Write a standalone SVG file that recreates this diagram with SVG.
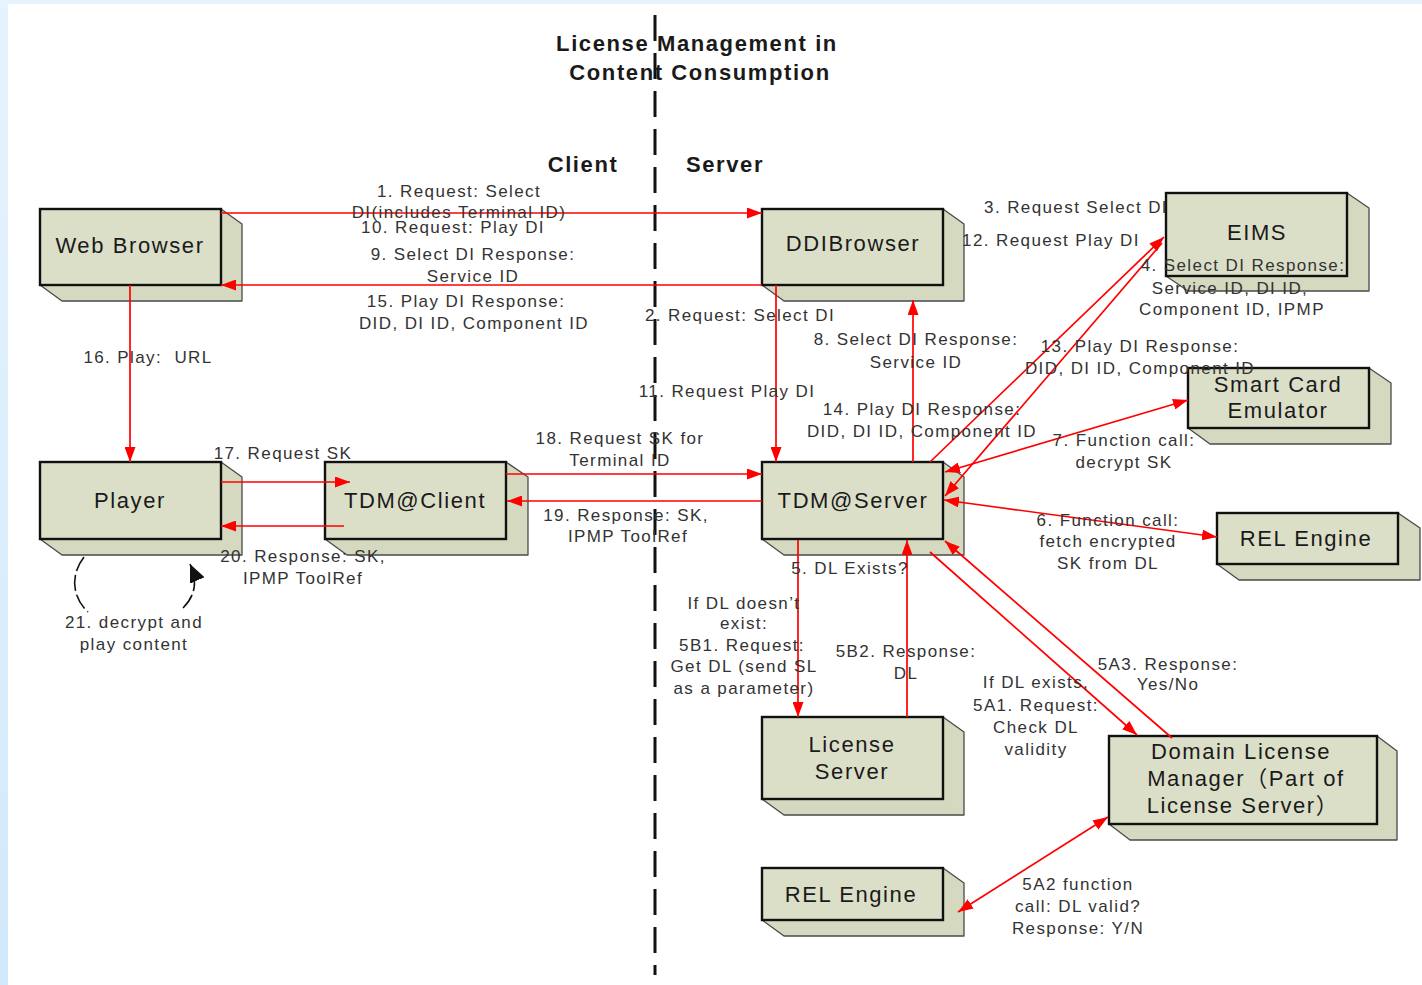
<svg xmlns="http://www.w3.org/2000/svg" width="1422" height="985" viewBox="0 0 1422 985">
<defs>
<linearGradient id="bg" x1="0" y1="0" x2="0" y2="1"><stop offset="0" stop-color="#e6f3fd"/><stop offset="1" stop-color="#d2e9fb"/></linearGradient>
<marker id="ah" markerWidth="15" markerHeight="11" refX="15" refY="5.5" orient="auto-start-reverse" markerUnits="userSpaceOnUse"><path d="M0,0 L15,5.5 L0,11 z" fill="#ff0000"/></marker>
<marker id="ahk" markerWidth="18" markerHeight="16" refX="18" refY="8" orient="auto" markerUnits="userSpaceOnUse"><path d="M0,0 L18,8 L0,16 z" fill="#111"/></marker>
<style>
.face{fill:#d5d9bf;stroke:#4a4a4a;stroke-width:1.3;stroke-linejoin:round}
.front{fill:#dcdfc8;stroke:#111;stroke-width:2.4}
.bl{font-family:"Liberation Sans",Arial,"Noto Sans CJK SC",sans-serif;font-size:22px;letter-spacing:1.6px;fill:#1a1a1a;text-anchor:middle}
.lb{font-family:"Liberation Sans",Arial,sans-serif;font-size:17px;letter-spacing:1.4px;fill:#333;text-anchor:middle}
.hd{font-family:"Liberation Sans",Arial,sans-serif;font-size:22px;font-weight:bold;letter-spacing:1.6px;fill:#1a1a1a;text-anchor:middle}
.ln{stroke:#ff0000;stroke-width:1.7;fill:none}
.ar{marker-end:url(#ah)}
.bi{marker-start:url(#ah);marker-end:url(#ah)}
</style>
</defs>
<rect x="0" y="0" width="1422" height="985" fill="url(#bg)"/>
<rect x="8" y="4" width="1414" height="981" fill="#ffffff"/>

<g id="divider">
<line x1="655" y1="15" x2="655" y2="975" stroke="#111" stroke-width="3" stroke-dasharray="26 12"/>
</g>
<g id="titles">
<text class="hd" x="697" y="51">License Management in</text>
<text class="hd" x="700" y="80">Content Consumption</text>
<text class="hd" x="583" y="172">Client</text>
<text class="hd" x="725" y="172">Server</text>
</g>

<g id="node-webbrowser">
<path class="face" d="M221,209 L242,224 L242,301 L62,301 L40,285 L221,285 Z"/>
<rect class="front" x="40" y="209" width="181" height="76"/>
<text class="bl" x="130" y="253">Web Browser</text>
</g>
<g id="node-ddibrowser">
<path class="face" d="M943,209 L964,224 L964,301 L784,301 L762,285 L943,285 Z"/>
<rect class="front" x="762" y="209" width="181" height="76"/>
<text class="bl" x="853" y="251">DDIBrowser</text>
</g>
<g id="node-eims">
<path class="face" d="M1347,193 L1369,208 L1369,291 L1188,291 L1166,276 L1347,276 Z"/>
<rect class="front" x="1166" y="193" width="181" height="83"/>
<text class="bl" x="1257" y="240">EIMS</text>
</g>
<g id="node-smartcard">
<path class="face" d="M1369,368 L1391,383 L1391,444 L1210,444 L1188,428 L1369,428 Z"/>
<rect class="front" x="1188" y="368" width="181" height="60"/>
<text class="bl" x="1278" y="392">Smart Card</text>
<text class="bl" x="1278" y="418">Emulator</text>
</g>
<g id="node-relengine1">
<path class="face" d="M1398,513 L1420,528 L1420,580 L1239,580 L1217,564 L1398,564 Z"/>
<rect class="front" x="1217" y="513" width="181" height="51"/>
<text class="bl" x="1306" y="546">REL Engine</text>
</g>
<g id="node-player">
<path class="face" d="M221,462 L242,477 L242,555 L62,555 L40,539 L221,539 Z"/>
<rect class="front" x="40" y="462" width="181" height="77"/>
<text class="bl" x="130" y="508">Player</text>
</g>
<g id="node-tdmclient">
<path class="face" d="M506,462 L528,477 L528,555 L347,555 L325,539 L506,539 Z"/>
<rect class="front" x="325" y="462" width="181" height="77"/>
<text class="bl" x="415" y="508">TDM@Client</text>
</g>
<g id="node-tdmserver">
<path class="face" d="M943,462 L964,477 L964,555 L784,555 L762,539 L943,539 Z"/>
<rect class="front" x="762" y="462" width="181" height="77"/>
<text class="bl" x="853" y="508">TDM@Server</text>
</g>
<g id="node-licenseserver">
<path class="face" d="M943,717 L964,732 L964,815 L784,815 L762,799 L943,799 Z"/>
<rect class="front" x="762" y="717" width="181" height="82"/>
<text class="bl" x="852" y="752">License</text>
<text class="bl" x="852" y="779">Server</text>
</g>
<g id="node-relengine2">
<path class="face" d="M943,868 L964,883 L964,936 L784,936 L762,920 L943,920 Z"/>
<rect class="front" x="762" y="868" width="181" height="52"/>
<text class="bl" x="851" y="902">REL Engine</text>
</g>
<g id="node-dlm">
<path class="face" d="M1377,736 L1397,751 L1397,840 L1130,840 L1109,824 L1377,824 Z"/>
<rect class="front" x="1109" y="736" width="268" height="88"/>
<text class="bl" x="1241" y="759">Domain License</text>
<text class="bl" x="1246" y="786">Manager（Part of</text>
<text class="bl" x="1243" y="813">License Server）</text>
</g>

<g id="connectors">
<line class="ln ar" x1="221" y1="213" x2="762" y2="213"/>
<line class="ln ar" x1="762" y1="285" x2="221" y2="285"/>
<line class="ln ar" x1="130" y1="285" x2="130" y2="462"/>
<line class="ln ar" x1="776" y1="285" x2="776" y2="462"/>
<line class="ln ar" x1="913" y1="462" x2="913" y2="300"/>
<line class="ln ar" x1="930" y1="462" x2="1164" y2="237"/>
<line class="ln ar" x1="1162" y1="243" x2="945" y2="496"/>
<line class="ln bi" x1="945" y1="472" x2="1188" y2="400"/>
<line class="ln bi" x1="944" y1="500" x2="1217" y2="537"/>
<line class="ln ar" x1="221" y1="482" x2="350" y2="482"/>
<line class="ln ar" x1="344" y1="526" x2="221" y2="526"/>
<line class="ln ar" x1="506" y1="474" x2="762" y2="474"/>
<line class="ln ar" x1="762" y1="501" x2="507" y2="501"/>
<line class="ln ar" x1="798" y1="540" x2="798" y2="717"/>
<line class="ln ar" x1="907" y1="717" x2="907" y2="540"/>
<line class="ln ar" x1="930" y1="552" x2="1137" y2="735"/>
<line class="ln ar" x1="1172" y1="738" x2="945" y2="541"/>
<line class="ln bi" x1="958" y1="912" x2="1108" y2="817"/>
<path d="M84,557 C70,575 72,597 88,612" fill="none" stroke="#111" stroke-width="1.6" stroke-dasharray="16 4"/>
<path d="M183,608 C195,596 198,582 190,564" fill="none" stroke="#111" stroke-width="1.6" stroke-dasharray="16 4" marker-end="url(#ahk)"/>
</g>

<g id="labels">
<text class="lb" x="459" y="197">1. Request: Select</text>
<text class="lb" x="459" y="218">DI(includes Terminal ID)</text>
<text class="lb" x="453" y="233">10. Request: Play DI</text>
<text class="lb" x="473" y="260">9. Select DI Response:</text>
<text class="lb" x="473" y="282">Service ID</text>
<text class="lb" x="466" y="307">15. Play DI Response:</text>
<text class="lb" x="474" y="329">DID, DI ID, Component ID</text>
<text class="lb" x="740" y="321">2. Request: Select DI</text>
<text class="lb" x="727" y="397">11. Request Play DI</text>
<text class="lb" x="916" y="345">8. Select DI Response:</text>
<text class="lb" x="916" y="368">Service ID</text>
<text class="lb" x="922" y="415">14. Play DI Response:</text>
<text class="lb" x="922" y="437">DID, DI ID, Component ID</text>
<text class="lb" x="1076" y="213">3. Request Select DI</text>
<text class="lb" x="1051" y="246">12. Request Play DI</text>
<text class="lb" x="1243" y="271">4. Select DI Response:</text>
<text class="lb" x="1230" y="294">Service ID, DI ID,</text>
<text class="lb" x="1232" y="315">Component ID, IPMP</text>
<text class="lb" x="1140" y="352">13. Play DI Response:</text>
<text class="lb" x="1140" y="374">DID, DI ID, Component ID</text>
<text class="lb" x="1124" y="446">7. Function call:</text>
<text class="lb" x="1124" y="468">decrypt SK</text>
<text class="lb" x="1108" y="526">6. Function call:</text>
<text class="lb" x="1108" y="547">fetch encrypted</text>
<text class="lb" x="1108" y="569">SK from DL</text>
<text class="lb" x="148" y="363">16. Play:&#160; URL</text>
<text class="lb" x="283" y="459">17. Request SK</text>
<text class="lb" x="303" y="562">20. Response: SK,</text>
<text class="lb" x="303" y="584">IPMP ToolRef</text>
<text class="lb" x="134" y="628">21. decrypt and</text>
<text class="lb" x="134" y="650">play content</text>
<text class="lb" x="620" y="444">18. Request SK for</text>
<text class="lb" x="620" y="466">Terminal ID</text>
<text class="lb" x="626" y="521">19. Response: SK,</text>
<text class="lb" x="628" y="542">IPMP ToolRef</text>
<text class="lb" x="850" y="574">5. DL Exists?</text>
<text class="lb" x="744" y="609">If DL doesn’t</text>
<text class="lb" x="744" y="629">exist:</text>
<text class="lb" x="742" y="651">5B1. Request:</text>
<text class="lb" x="744" y="672">Get DL (send SL</text>
<text class="lb" x="744" y="694">as a parameter)</text>
<text class="lb" x="906" y="657">5B2. Response:</text>
<text class="lb" x="906" y="679">DL</text>
<text class="lb" x="1036" y="688">If DL exists,</text>
<text class="lb" x="1036" y="711">5A1. Request:</text>
<text class="lb" x="1036" y="733">Check DL</text>
<text class="lb" x="1036" y="755">validity</text>
<text class="lb" x="1168" y="670">5A3. Response:</text>
<text class="lb" x="1168" y="690">Yes/No</text>
<text class="lb" x="1078" y="890">5A2 function</text>
<text class="lb" x="1078" y="912">call: DL valid?</text>
<text class="lb" x="1078" y="934">Response: Y/N</text>
</g>
</svg>
